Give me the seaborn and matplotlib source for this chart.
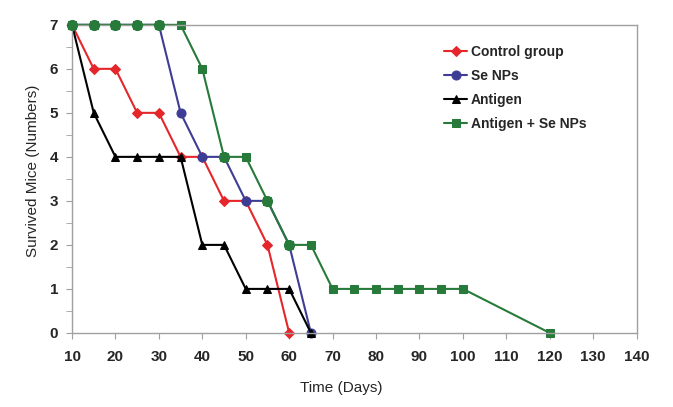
import matplotlib
matplotlib.use("Agg")
import matplotlib.pyplot as plt
import seaborn as sns
import pandas as pd
from matplotlib.ticker import MultipleLocator

# Данные кривых выживаемости
days_control = [10, 15, 20, 25, 30, 35, 40, 45, 50, 55, 60]
mice_control = [7, 6, 6, 5, 5, 4, 4, 3, 3, 2, 0]

days_se = [10, 15, 20, 25, 30, 35, 40, 45, 50, 55, 60, 65]
mice_se = [7, 7, 7, 7, 7, 5, 4, 4, 3, 3, 2, 0]

days_antigen = [10, 15, 20, 25, 30, 35, 40, 45, 50, 55, 60, 65]
mice_antigen = [7, 5, 4, 4, 4, 4, 2, 2, 1, 1, 1, 0]

days_combo = [10, 15, 20, 25, 30, 35, 40, 45, 50, 55, 60, 65, 70, 75, 80, 85, 90, 95, 100, 120]
mice_combo = [7, 7, 7, 7, 7, 7, 6, 4, 4, 3, 2, 2, 1, 1, 1, 1, 1, 1, 1, 0]

groups = ["Control group", "Se NPs", "Antigen", "Antigen + Se NPs"]
x_ticks = list(range(10, 141, 10))

frames = []
for name, d, m in zip(groups,
                      [days_control, days_se, days_antigen, days_combo],
                      [mice_control, mice_se, mice_antigen, mice_combo]):
    frames.append(pd.DataFrame({"Day": d, "Mice": m, "Group": name}))
df = pd.concat(frames, ignore_index=True)

palette = {"Control group": "#e5262b", "Se NPs": "#3e3d95",
           "Antigen": "#000000", "Antigen + Se NPs": "#277a3a"}
markers = {"Control group": "D", "Se NPs": "o",
           "Antigen": "^", "Antigen + Se NPs": "s"}
sizes_m = {"Control group": 4.8, "Se NPs": 6.5, "Antigen": 6, "Antigen + Se NPs": 5.2}

sns.set_style("white")
plt.rcParams["font.family"] = ["Liberation Sans", "DejaVu Sans"]

fig = plt.figure(figsize=(6.73, 4.07), dpi=100)
ax = fig.add_axes([0.107, 0.182, 0.839, 0.757])

for name in groups:
    sub = df[df["Group"] == name]
    sns.lineplot(data=sub, x="Day", y="Mice", ax=ax, color=palette[name],
                 marker=markers[name], markersize=sizes_m[name],
                 markeredgecolor=palette[name], linewidth=1.5, label=name,
                 clip_on=False)

# в оригинале зелёные маркеры поверх синих выглядят кружками
shared = pd.merge(df[df["Group"] == "Se NPs"], df[df["Group"] == "Antigen + Se NPs"],
                  on=["Day", "Mice"])
ax.plot(shared["Day"], shared["Mice"], linestyle="none", marker="o",
        markersize=7, color=palette["Antigen + Se NPs"], clip_on=False, zorder=5)

ax.set_xlim(10, 140)
ax.set_ylim(0, 7)
ax.set_xticks(x_ticks)
ax.set_yticks(range(0, 8))
ax.yaxis.set_minor_locator(MultipleLocator(0.5))

for s in ax.spines.values():
    s.set_color("#a0a0a0")
    s.set_linewidth(1.0)

ax.tick_params(axis="both", which="major", direction="out", length=4,
               color="#a0a0a0", labelsize=11)
ax.tick_params(axis="x", which="major", pad=8, bottom=True)
ax.tick_params(axis="y", which="major", pad=6, left=True)
ax.tick_params(axis="y", which="minor", direction="out", length=4,
               color="#a0a0a0", left=True)
for lbl in ax.get_xticklabels() + ax.get_yticklabels():
    lbl.set_fontweight("bold")

ax.set_xlabel("Time (Days)", fontsize=11)
ax.set_ylabel("Survived Mice (Numbers)", fontsize=11)
ax.xaxis.set_label_coords(0.476, -0.155)
ax.yaxis.set_label_coords(-0.056, 0.526)

leg = ax.legend(loc="upper left", bbox_to_anchor=(0.637, 0.976), frameon=False,
                prop={"weight": "bold", "size": 10}, handlelength=1.65,
                handletextpad=0.25, labelspacing=0.72)

fig.savefig("out.png", dpi=100)
